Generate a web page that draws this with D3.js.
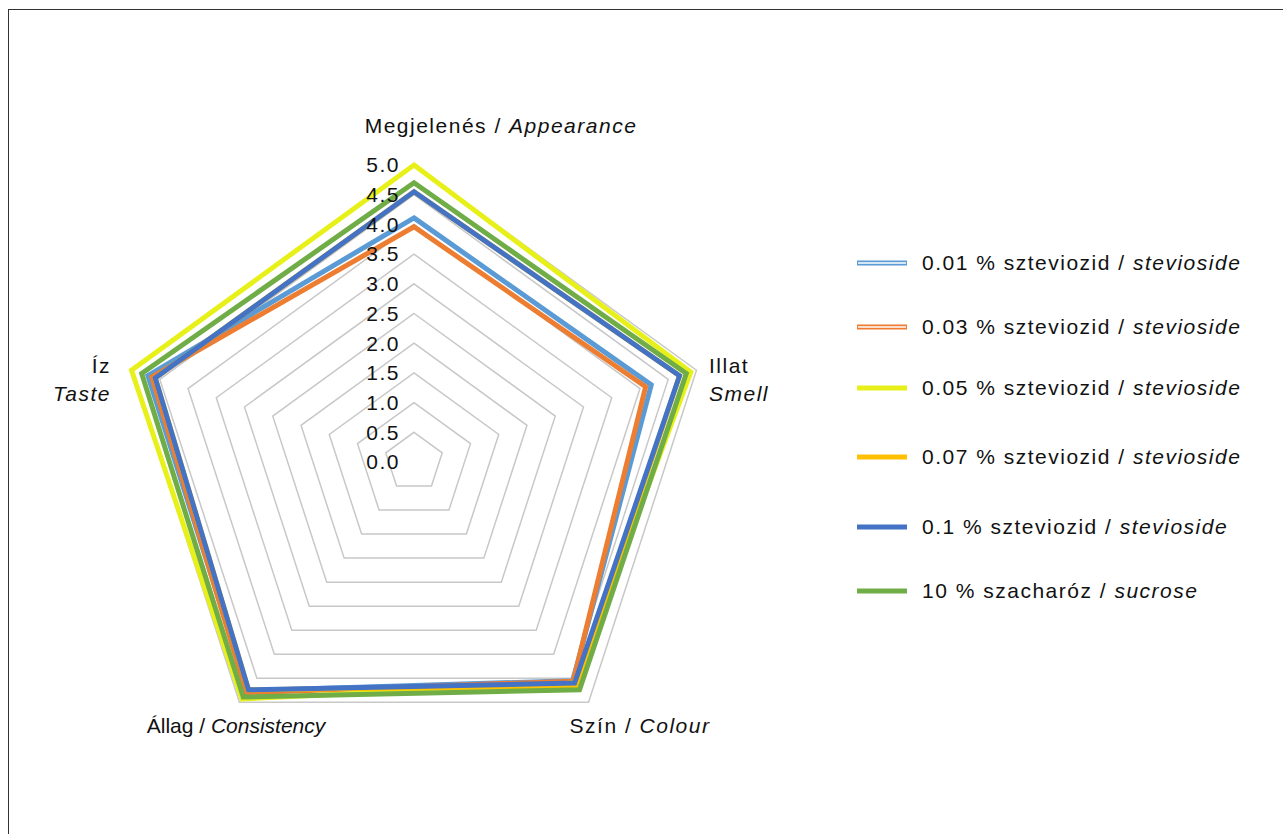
<!DOCTYPE html>
<html>
<head>
<meta charset="utf-8">
<script src="https://cdn.jsdelivr.net/npm/d3@7"></script>
<style>
  html, body { margin: 0; padding: 0; background: #fff; }
  svg { display: block; font-family: "Liberation Sans", Arial, sans-serif; }
</style>
</head>
<body>
<div id="chart"></div>
<script>
// --- Data ---
const axes = ["Appearance", "Smell", "Colour", "Consistency", "Taste"];
const ticks = [0, 0.5, 1, 1.5, 2, 2.5, 3, 3.5, 4, 4.5, 5];

const seriesNames = [
  "0.01 % szteviozid / ", "0.03 % szteviozid / ", "0.05 % szteviozid / ",
  "0.07 % szteviozid / ", "0.1 % szteviozid / ", "10 % szacharóz / "
];
const seriesItalic = ["stevioside", "stevioside", "stevioside", "stevioside", "stevioside", "sucrose"];
const seriesColors = ["#5b9bd5", "#ed7d31", "#e8f01a", "#ffc000", "#4472c4", "#70ad47"];

const s001 = [4.11, 4.20, 4.55, 4.76, 4.71];
const s003 = [3.96, 4.10, 4.56, 4.80, 4.64];
const s005 = [5.00, 4.90, 4.60, 4.93, 5.00];
const s007 = [4.55, 4.70, 4.66, 4.74, 4.58];
const s01  = [4.55, 4.70, 4.60, 4.74, 4.58];
const s10  = [4.70, 4.82, 4.74, 4.89, 4.82];
const seriesValues = [s001, s003, s005, s007, s01, s10];

// --- Layout ---
const W = 1283, H = 834;
const cx = 414, cy = 462, R = 297;
const FONT = 21, SPACING = 1.5;

const svg = d3.select("#chart").append("svg")
  .attr("width", W).attr("height", H);

svg.append("rect")
  .attr("x", 8.5).attr("y", 9.5)
  .attr("width", W + 10).attr("height", H + 10)
  .attr("fill", "#fff").attr("stroke", "#333").attr("stroke-width", 1);

const r = d3.scaleLinear().domain([0, 5]).range([0, R]);
const angle = d3.scalePoint().domain(axes).range([0, 2 * Math.PI * 4 / 5]);

function pt(axis, v) {
  const a = angle(axis);
  return [cx + r(v) * Math.sin(a), cy - r(v) * Math.cos(a)];
}

const line = d3.line().curve(d3.curveLinearClosed);

// grid rings (skip 0)
svg.append("g").selectAll("path")
  .data(ticks.filter(t => t > 0))
  .join("path")
  .attr("d", t => line(axes.map(a => pt(a, t))))
  .attr("fill", "none")
  .attr("stroke", "#c8c8c8")
  .attr("stroke-width", 1.5);

// series
svg.append("g").selectAll("path")
  .data(seriesValues)
  .join("path")
  .attr("d", vals => line(axes.map((a, i) => pt(a, vals[i]))))
  .attr("fill", "none")
  .attr("stroke", (d, i) => seriesColors[i])
  .attr("stroke-width", 5)
  .attr("stroke-linejoin", "miter");

// tick labels
svg.append("g").selectAll("text")
  .data(ticks)
  .join("text")
  .attr("x", cx - 14)
  .attr("y", t => cy - r(t))
  .attr("dy", "0.35em")
  .attr("text-anchor", "end")
  .attr("font-size", FONT)
  .attr("letter-spacing", SPACING)
  .attr("fill", "#111")
  .text(t => d3.format(".1f")(t));

// axis labels
const labelData = [
  { x: 501, y: 133, anchor: "middle", sp: SPACING, lines: [["Megjelenés / ", "Appearance"]] },
  { x: 709, y: 373, anchor: "start", sp: SPACING, lines: [["Illat", ""], ["", "Smell"]] },
  { x: 640, y: 733, anchor: "middle", sp: SPACING, lines: [["Szín / ", "Colour"]] },
  { x: 236, y: 733, anchor: "middle", sp: 0, lines: [["Állag / ", "Consistency"]] },
  { x: 111, y: 373, anchor: "end", sp: SPACING, lines: [["Íz", ""], ["", "Taste"]] }
];

const lab = svg.append("g")
  .attr("font-size", FONT)
  .attr("fill", "#111");
labelData.forEach(d => {
  d.lines.forEach((ln, k) => {
    const t = lab.append("text")
      .attr("x", d.x).attr("y", d.y + k * 28)
      .attr("letter-spacing", d.sp)
      .attr("text-anchor", d.anchor);
    t.append("tspan").text(ln[0]);
    t.append("tspan").attr("font-style", "italic").text(ln[1]);
  });
});

// legend
const legendY = [263, 327, 388, 457, 527, 591];
const lg = svg.append("g");
seriesNames.forEach((name, i) => {
  const y = legendY[i];
  lg.append("line")
    .attr("x1", 857).attr("x2", 907).attr("y1", y).attr("y2", y)
    .attr("stroke", seriesColors[i]).attr("stroke-width", 5);
  if (i < 2) {
    lg.append("line")
      .attr("x1", 858).attr("x2", 906).attr("y1", y).attr("y2", y)
      .attr("stroke", "#fff").attr("stroke-width", 1.5);
  }
  const t = lg.append("text")
    .attr("x", 922).attr("y", y)
    .attr("dy", "0.35em")
    .attr("font-size", FONT)
    .attr("letter-spacing", SPACING)
    .attr("fill", "#111");
  t.append("tspan").text(name);
  t.append("tspan").attr("font-style", "italic").text(seriesItalic[i]);
});
</script>
</body>
</html>
